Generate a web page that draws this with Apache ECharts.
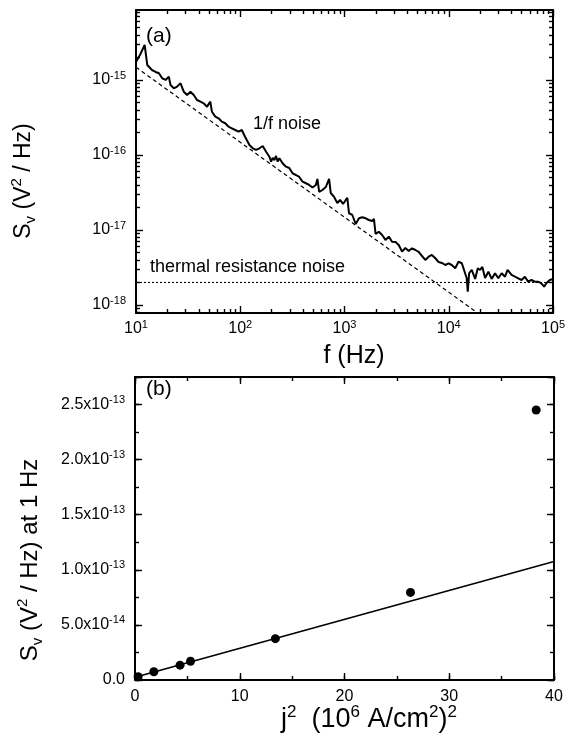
<!DOCTYPE html>
<html>
<head>
<meta charset="utf-8">
<script src="https://cdn.jsdelivr.net/npm/echarts@6.0.0/dist/echarts.min.js"></script>
<style>
  html, body { margin: 0; padding: 0; background: #fff; }
  #chart { width: 568px; height: 743px; }
</style>
</head>
<body>
<div id="chart"></div>
<script>
// ---- Panel (a): noise spectrum (log10 of f in Hz, log10 of Sv in V^2/Hz) ----
const logF = [1.000,1.038,1.083,1.108,1.153,1.188,1.203,1.220,1.251,1.284,
  1.315,1.331,1.363,1.394,1.427,1.458,1.490,1.522,1.554,1.585,
  1.618,1.649,1.681,1.713,1.728,1.761,1.792,1.824,1.856,1.888,
  1.919,1.952,1.983,2.015,2.047,2.088,2.120,2.152,2.184,2.215,
  2.248,2.279,2.296,2.311,2.327,2.343,2.359,2.375,2.406,2.439,
  2.470,2.502,2.534,2.566,2.597,2.630,2.661,2.693,2.725,2.740,
  2.757,2.788,2.821,2.852,2.868,2.900,2.931,2.957,2.986,3.012,
  3.027,3.043,3.075,3.107,3.139,3.170,3.203,3.234,3.265,3.282,
  3.298,3.329,3.361,3.393,3.425,3.456,3.489,3.520,3.552,3.584,
  3.616,3.647,3.680,3.711,3.743,3.775,3.807,3.838,3.871,3.902,
  3.934,3.966,3.998,4.029,4.062,4.093,4.125,4.141,4.172,4.182,
  4.195,4.220,4.253,4.278,4.300,4.322,4.348,4.380,4.411,4.444,
  4.475,4.507,4.539,4.564,4.602,4.635,4.666,4.698,4.730,4.761,
  4.793,4.825,4.857,4.888,4.914,4.936,4.969,5.000];
const logSv = [-14.760,-14.667,-14.533,-14.800,-14.867,-14.893,-14.867,-14.911,-14.977,-15.000,
  -14.956,-15.067,-15.111,-15.089,-15.044,-15.156,-15.200,-15.156,-15.200,-15.267,
  -15.289,-15.311,-15.356,-15.289,-15.423,-15.489,-15.511,-15.556,-15.577,-15.623,
  -15.644,-15.667,-15.689,-15.667,-15.760,-15.867,-15.911,-15.933,-15.911,-15.880,
  -15.956,-16.023,-16.089,-16.040,-16.067,-16.013,-16.089,-16.044,-16.111,-16.156,
  -16.173,-16.244,-16.267,-16.293,-16.356,-16.377,-16.400,-16.433,-16.400,-16.320,
  -16.493,-16.467,-16.427,-16.320,-16.507,-16.560,-16.640,-16.600,-16.653,-16.600,
  -16.573,-16.777,-16.800,-16.920,-16.844,-16.831,-16.844,-16.867,-16.880,-16.853,
  -17.053,-17.023,-17.067,-17.133,-17.089,-17.156,-17.160,-17.200,-17.289,-17.240,
  -17.280,-17.244,-17.267,-17.293,-17.347,-17.400,-17.356,-17.333,-17.377,-17.427,
  -17.440,-17.467,-17.444,-17.467,-17.511,-17.423,-17.444,-17.511,-17.644,-17.823,
  -17.577,-17.533,-17.653,-17.511,-17.533,-17.493,-17.640,-17.556,-17.653,-17.577,
  -17.644,-17.577,-17.623,-17.533,-17.600,-17.623,-17.644,-17.667,-17.623,-17.689,
  -17.667,-17.689,-17.689,-17.711,-17.756,-17.711,-17.667,-17.653];

// 1/f reference line and thermal resistance noise floor (log10 values)
const oneOverFLogF  = [1.0, 4.3];
const oneOverFLogSv = [-14.83, -18.13];
const thermalLogF   = [1.0, 5.0];
const thermalLogSv  = [-17.70, -17.70];

// Axis decades
const xDecades = [1, 2, 3, 4, 5];
const yDecades = [-18, -17, -16, -15];
const yLogMin = -18.107, yLogMax = -14.067;

// ---- Panel (b): Sv at 1 Hz versus j^2 ----
const j2       = [0.3, 1.8, 4.3, 5.3, 13.4, 26.3, 38.3];
const svAt1Hz  = [0.3e-14, 0.75e-14, 1.35e-14, 1.7e-14, 3.75e-14, 7.95e-14, 2.45e-13];
const fitJ2    = [0, 40];
const fitSv    = [0.25e-14, 1.075e-13];

// ---- helpers ----
const BLACK = '#000';
const FONT = '"Liberation Sans", Arial, Helvetica, sans-serif';
const zip = (a, b) => a.map((v, i) => [v, b[i]]);

// log-paper minor ticks (2..9 within each decade) inside [lo, hi]
function logMinor(lo, hi) {
  const out = [];
  for (let d = Math.floor(lo) - 1; d <= Math.ceil(hi); d++) {
    for (let k = 2; k <= 9; k++) {
      const v = d + Math.log10(k);
      if (v > lo && v < hi) out.push(+v.toFixed(5));
    }
  }
  return out;
}

const supRich = {
  sup: { fontSize: 11, fontFamily: FONT, color: BLACK, verticalAlign: 'top', lineHeight: 12 }
};

function axis(o) {
  const a = {
    gridIndex: o.grid,
    type: 'value',
    min: o.min, max: o.max,
    position: o.pos,
    axisLine: { show: !!o.line, onZero: false, lineStyle: { color: BLACK, width: 2 } },
    axisTick: { show: true, inside: true, length: o.tickLen, lineStyle: { color: BLACK, width: 1.4 } },
    axisLabel: { show: false },
    splitLine: { show: false },
    minorTick: { show: false },
    silent: true
  };
  if (o.interval != null) a.interval = o.interval;
  if (o.ticks) a.axisTick.customValues = o.ticks;
  if (o.label) {
    a.axisLabel = Object.assign({
      show: true, color: BLACK, fontFamily: FONT, fontSize: 16, lineHeight: 20,
      rich: supRich
    }, o.label);
  }
  return a;
}

const xMinorA = logMinor(1, 5);
const yMinorA = logMinor(yLogMin, yLogMax);

const xAxes = [
  // panel (a)
  axis({ grid: 0, min: 1, max: 5, pos: 'bottom', line: true, tickLen: 7, ticks: xDecades,
    label: { customValues: xDecades, margin: 6, formatter: v => '10{sup|' + v + '}' } }),
  axis({ grid: 0, min: 1, max: 5, pos: 'bottom', tickLen: 4, ticks: xMinorA }),
  axis({ grid: 0, min: 1, max: 5, pos: 'top', line: true, tickLen: 7, ticks: xDecades }),
  axis({ grid: 0, min: 1, max: 5, pos: 'top', tickLen: 4, ticks: xMinorA }),
  // panel (b)
  axis({ grid: 1, min: 0, max: 40, pos: 'bottom', line: true, tickLen: 7, interval: 10,
    label: { margin: 7, formatter: v => String(v) } }),
  axis({ grid: 1, min: 0, max: 40, pos: 'bottom', tickLen: 4, interval: 5 }),
  axis({ grid: 1, min: 0, max: 40, pos: 'top', line: true, tickLen: 7, interval: 10 }),
  axis({ grid: 1, min: 0, max: 40, pos: 'top', tickLen: 4, interval: 5 })
];

function svLabel(v) {
  const m = v / 1e-13;
  if (Math.abs(m) < 1e-9) return '0.0';
  const k = Math.round(m * 2);
  if (Math.abs(m * 2 - k) > 1e-6) return '';
  return m >= 1 ? m.toFixed(1) + 'x10{sup|-13}' : (m * 10).toFixed(1) + 'x10{sup|-14}';
}

const yAxes = [
  // panel (a)
  axis({ grid: 0, min: yLogMin, max: yLogMax, pos: 'left', line: true, tickLen: 7, ticks: yDecades,
    label: { customValues: yDecades, margin: 10, formatter: v => '10{sup|' + v + '}' } }),
  axis({ grid: 0, min: yLogMin, max: yLogMax, pos: 'left', tickLen: 4, ticks: yMinorA }),
  axis({ grid: 0, min: yLogMin, max: yLogMax, pos: 'right', line: true, tickLen: 7, ticks: yDecades }),
  axis({ grid: 0, min: yLogMin, max: yLogMax, pos: 'right', tickLen: 4, ticks: yMinorA }),
  // panel (b)
  axis({ grid: 1, min: 0, max: 2.75e-13, pos: 'left', line: true, tickLen: 7, interval: 0.5e-13,
    label: { margin: 10, fontSize: 16, formatter: svLabel } }),
  axis({ grid: 1, min: 0, max: 2.75e-13, pos: 'left', tickLen: 4, interval: 0.25e-13 }),
  axis({ grid: 1, min: 0, max: 2.75e-13, pos: 'right', line: true, tickLen: 7, interval: 0.5e-13 }),
  axis({ grid: 1, min: 0, max: 2.75e-13, pos: 'right', tickLen: 4, interval: 0.25e-13 })
];

function title(text, x, y, rotate, size, small) {
  return {
    type: 'text', x: x, y: y, rotation: rotate ? Math.PI / 2 : 0, silent: true,
    style: {
      text: text, fill: BLACK, fontSize: size, fontFamily: FONT, lineHeight: size + 6,
      align: 'center', verticalAlign: 'middle',
      rich: {
        sup: { fontSize: small, fontFamily: FONT, fill: BLACK, verticalAlign: 'top', lineHeight: small },
        sub: { fontSize: small, fontFamily: FONT, fill: BLACK, verticalAlign: 'bottom', lineHeight: small }
      }
    }
  };
}
function note(text, x, y, size) {
  return {
    type: 'text', x: x, y: y, silent: true,
    style: { text: text, fill: BLACK, fontSize: size, fontFamily: FONT, align: 'left', verticalAlign: 'middle' }
  };
}

const option = {
  backgroundColor: '#fff',
  animation: false,
  grid: [
    { left: 136, top: 10, width: 419, height: 303, containLabel: false },
    { left: 135, top: 377, width: 419, height: 303, containLabel: false }
  ],
  xAxis: xAxes,
  yAxis: yAxes,
  series: [
    { type: 'line', xAxisIndex: 0, yAxisIndex: 0, data: zip(logF, logSv), showSymbol: false,
      lineStyle: { color: BLACK, width: 2 }, z: 5 },
    { type: 'line', xAxisIndex: 0, yAxisIndex: 0, data: zip(oneOverFLogF, oneOverFLogSv), showSymbol: false,
      lineStyle: { color: BLACK, width: 1.2, type: [4, 3] } },
    { type: 'line', xAxisIndex: 0, yAxisIndex: 0, data: zip(thermalLogF, thermalLogSv), showSymbol: false,
      lineStyle: { color: BLACK, width: 1.1, type: [2, 2] } },
    { type: 'line', xAxisIndex: 4, yAxisIndex: 4, data: zip(fitJ2, fitSv), showSymbol: false,
      lineStyle: { color: BLACK, width: 1.6 } },
    { type: 'scatter', xAxisIndex: 4, yAxisIndex: 4, data: zip(j2, svAt1Hz), symbol: 'circle', symbolSize: 9,
      itemStyle: { color: BLACK, opacity: 1 }, z: 6 }
  ],
  graphic: [
    note('(a)', 146, 36, 21),
    note('(b)', 146, 389, 21),
    note('1/f noise', 253, 124, 18),
    note('thermal resistance noise', 150, 267, 18),
    title('S{sub|v} (V{sup|2} / Hz)', 24, 181, true, 23, 15),
    title('f (Hz)', 354, 356, false, 25, 16),
    title('S{sub|v} (V{sup|2} / Hz) at 1 Hz', 30, 560, true, 24, 15),
    title('j{sup|2}  (10{sup|6} A/cm{sup|2}){sup|2}', 369, 720, false, 27, 17)
  ]
};

const chart = echarts.init(document.getElementById('chart'), null, { renderer: 'canvas' });
chart.setOption(option);
</script>
</body>
</html>
